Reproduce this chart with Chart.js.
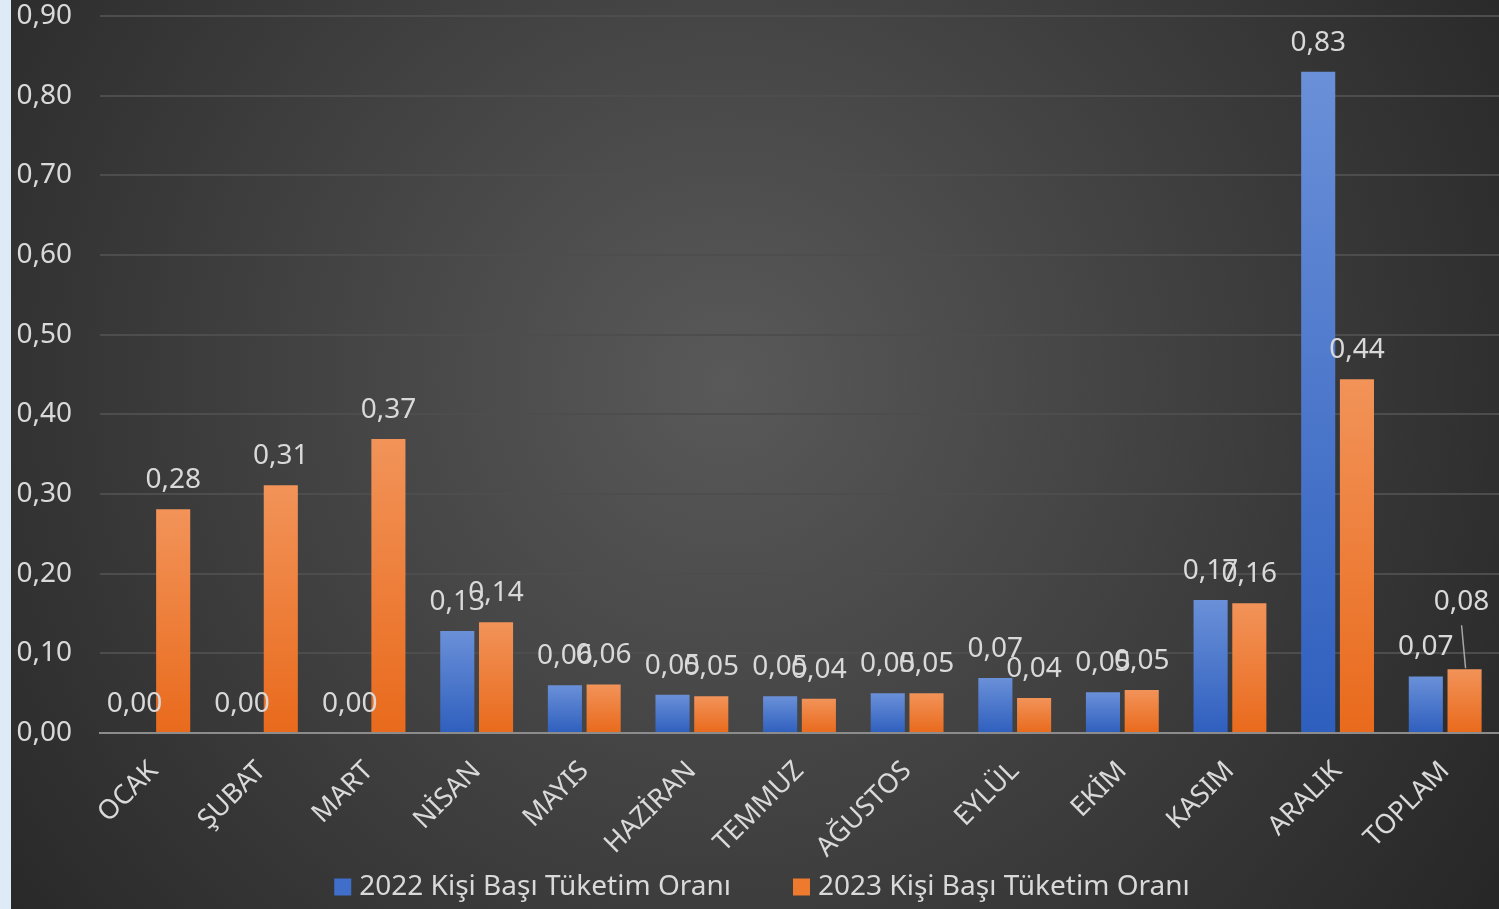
<!DOCTYPE html>
<html>
<head>
<meta charset="utf-8">
<script src="https://cdn.jsdelivr.net/npm/chart.js@4"></script>
<style>
  html, body { margin: 0; padding: 0; background: #deeaf6; }
  #wrap { position: absolute; left: 11px; top: 0; width: 1488px; height: 909px; }
</style>
</head>
<body>
<div id="wrap"><canvas id="myChart"></canvas></div>
<script>
// kategoriler
var months = ['OCAK', 'ŞUBAT', 'MART', 'NİSAN', 'MAYIS', 'HAZİRAN', 'TEMMUZ', 'AĞUSTOS', 'EYLÜL', 'EKİM', 'KASIM', 'ARALIK', 'TOPLAM'];
// 2022 ve 2023 değerleri
var rate2022 = [0, 0, 0, 0.128, 0.060, 0.048, 0.046, 0.050, 0.069, 0.051, 0.167, 0.830, 0.071];
var rate2023 = [0.281, 0.311, 0.369, 0.139, 0.061, 0.046, 0.043, 0.050, 0.044, 0.054, 0.163, 0.444, 0.080];
var label2022 = '2022 Kişi Başı Tüketim Oranı';
var label2023 = '2023 Kişi Başı Tüketim Oranı';
var legendColors = ['#3f6fcb', '#ee7a2e'];

var FONT = '"Noto Sans", "DejaVu Sans", sans-serif';
var TXT = '#d9d9d9';
var fmt = function(v){ return v.toFixed(2).replace('.', ','); };

// arka plan
var bgPlugin = {
  id: 'bg',
  beforeDraw: function(chart){
    var c = chart.ctx, w = chart.width, h = chart.height;
    var g = c.createRadialGradient(w * 0.48, h * 0.42, 0, w * 0.48, h * 0.42, w * 0.62);
    g.addColorStop(0, '#595959');
    g.addColorStop(1, '#272727');
    c.save();
    c.fillStyle = g;
    c.fillRect(0, 0, w, h);
    c.restore();
  }
};

// değer etiketleri (TOPLAM 2023 etiketi yukarıda, çizgiyle)
var labelPlugin = {
  id: 'vals',
  afterDatasetsDraw: function(chart){
    var c = chart.ctx;
    c.save();
    c.font = '28px ' + FONT;
    c.fillStyle = TXT;
    c.textAlign = 'center';
    c.textBaseline = 'bottom';
    chart.data.datasets.forEach(function(ds, i){
      chart.getDatasetMeta(i).data.forEach(function(bar, j){
        var lift = (i === 1 && j === months.length - 1) ? 38 : 0;
        var tx = bar.x - (lift ? 3 : 0);
        if (lift) {
          c.strokeStyle = '#a6a6a6';
          c.lineWidth = 1.5;
          c.beginPath();
          c.moveTo(tx, bar.y - lift - 6);
          c.lineTo(bar.x + 1, bar.y - 1);
          c.stroke();
        }
        c.fillText(fmt(ds.data[j]), tx, bar.y - 15 - lift);
      });
    });
    c.restore();
  }
};

// alt açıklama (legend)
var legendPlugin = {
  id: 'myLegend',
  afterDraw: function(chart){
    var c = chart.ctx;
    var names = [label2022, label2023];
    var box = 17, gapText = 8, gapItem = 62;
    c.save();
    c.font = '28px ' + FONT;
    var widths = names.map(function(n){ return c.measureText(n).width; });
    var total = box * 2 + gapText * 2 + widths[0] + widths[1] + gapItem;
    var x = (chart.width - total) / 2 + 7;
    var y = 887;
    c.textBaseline = 'middle';
    names.forEach(function(n, i){
      c.fillStyle = legendColors[i];
      c.fillRect(x, y - box / 2, box, box);
      x += box + gapText;
      c.fillStyle = TXT;
      c.fillText(n, x, y);
      x += widths[i] + gapItem;
    });
    c.restore();
  }
};

// her çubuk için kendi yüksekliğinde gradyan
function grad(c, top, bottom){
  var ys = c.chart.scales.y;
  if (!c.chart.chartArea || !ys || c.raw == null) return bottom;
  var y0 = ys.getPixelForValue(c.raw), y1 = ys.getPixelForValue(0);
  if (!(y1 - y0 > 1)) return bottom;
  var g = c.chart.ctx.createLinearGradient(0, y0, 0, y1);
  g.addColorStop(0, top);
  g.addColorStop(1, bottom);
  return g;
}

var ctx = document.getElementById('myChart').getContext('2d');
var chart = new Chart(ctx, {
  type: 'bar',
  data: {
    labels: months,
    datasets: [{
      label: label2022,
      data: rate2022,
      backgroundColor: function(c){ return grad(c, '#6a90d8', '#2f5fbe'); }
    }, {
      label: label2023,
      data: rate2023,
      backgroundColor: function(c){ return grad(c, '#f29359', '#e96a1c'); }
    }]
  },
  options: {
    responsive: true,
    maintainAspectRatio: false,
    animation: false,
    categoryPercentage: 0.72,
    barPercentage: 0.88,
    layout: { padding: { top: 0, right: 0, left: 4, bottom: 46 } },
    plugins: {
      tooltip: { enabled: false },
      legend: { display: false }
    },
    scales: {
      x: {
        grid: { display: false },
        border: { color: '#8c8c8c', width: 2 },
        ticks: {
          color: TXT,
          font: { family: FONT, size: 27 },
          minRotation: 45,
          maxRotation: 45,
          padding: 14
        },
        afterFit: function(s){ s.height = 130; }
      },
      y: {
        min: 0,
        max: 0.9,
        grid: { color: '#4d4d4d', lineWidth: 2, drawTicks: false },
        border: { display: false },
        ticks: {
          stepSize: 0.1,
          color: TXT,
          font: { family: FONT, size: 28 },
          padding: 28,
          callback: function(v){ return fmt(v); }
        },
        afterFit: function(s){
          s.width = 85;
          s.paddingTop = 16;
          s.paddingBottom = 0;
        }
      }
    }
  },
  plugins: [bgPlugin, labelPlugin, legendPlugin]
});
</script>
</body>
</html>
